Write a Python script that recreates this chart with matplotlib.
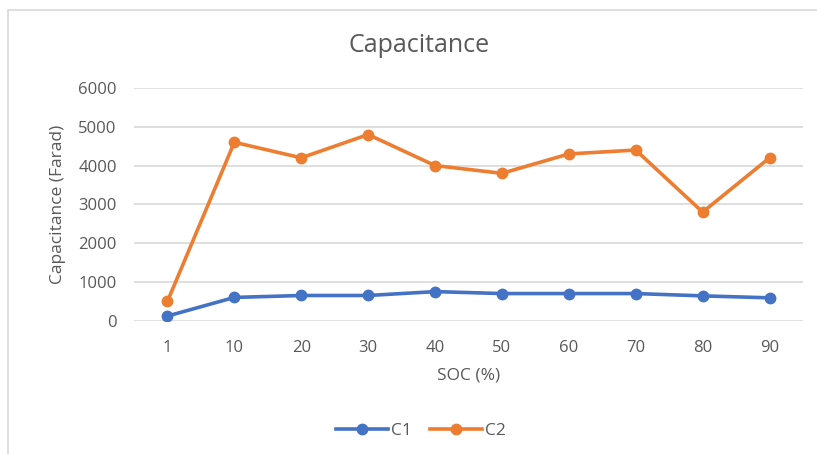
import matplotlib.pyplot as plt
from matplotlib.patches import Rectangle

soc = ['1', '10', '20', '30', '40', '50', '60', '70', '80', '90']
c1 = [120, 600, 650, 650, 750, 700, 700, 700, 640, 590]
c2 = [500, 4600, 4200, 4800, 4000, 3800, 4300, 4400, 2800, 4200]
yticks = [0, 1000, 2000, 3000, 4000, 5000, 6000]

txt = '#595959'
plt.rcParams['font.family'] = ['Open Sans', 'DejaVu Sans']

fig = plt.figure(figsize=(8.17, 4.54), dpi=100)
ax = fig.add_axes([134 / 817, 1 - 320.7 / 454, 669 / 817, 232.7 / 454])

# chart border
fig.patches.append(Rectangle((8 / 817, -0.1), 1.1, 1.1 - 10 / 454,
                             transform=fig.transFigure, fill=False,
                             edgecolor='#d9d9d9', linewidth=1.2))

x = range(len(soc))
ax.plot(x, c1, '-o', color='#4472C4', lw=2.6, ms=7.5, label='C1')
ax.plot(x, c2, '-o', color='#ED7D31', lw=2.6, ms=7.5, label='C2')

ax.set_xlim(-0.5, len(soc) - 0.5)
ax.set_ylim(0, 6000)
ax.set_yticks(yticks)
ax.set_xticks(list(x))
ax.set_xticklabels(soc)
ax.grid(axis='y', color='#d9d9d9', lw=1.2)
ax.set_axisbelow(True)
for s in ax.spines.values():
    s.set_visible(False)
ax.tick_params(length=0, labelsize=12, colors=txt)
ax.tick_params(axis='y', pad=12.5)
ax.tick_params(axis='x', pad=14)

ax.set_xlabel('SOC (%)', fontsize=12.5, color=txt, labelpad=8)
ax.set_ylabel('Capacitance (Farad)', fontsize=12.5, color=txt, labelpad=9)
fig.text(419 / 817, 1 - 45 / 454, 'Capacitance', ha='center',
         va='center', fontsize=18, color=txt)

fig.legend(loc='center', bbox_to_anchor=(421 / 817, 1 - 431 / 454), ncol=2,
           frameon=False, fontsize=12.5, labelcolor=txt, handlelength=3,
           columnspacing=1.0, handletextpad=0.2)

fig.savefig('out.png', dpi=100)
